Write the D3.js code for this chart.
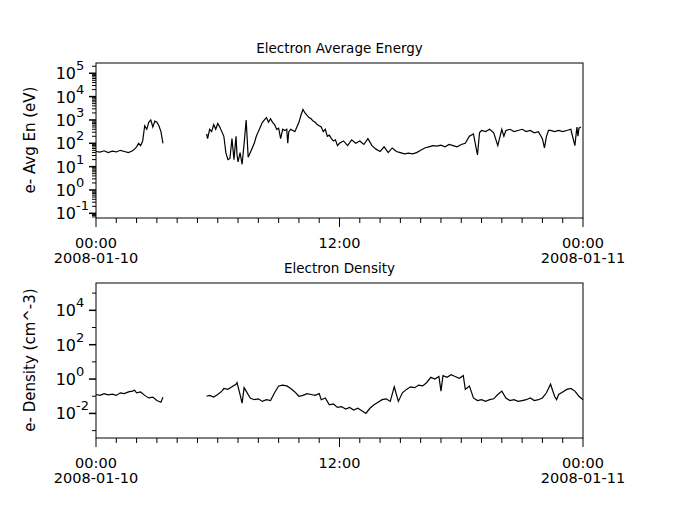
<!DOCTYPE html>
<html><head><meta charset="utf-8">
<script src="https://cdn.jsdelivr.net/npm/d3@7"></script>
<style>body{margin:0;background:#fff}text{font-family:"DejaVu Sans",sans-serif;fill:#000}</style>
</head><body><svg id="c" width="679" height="518"></svg>
<script>
// hours since 2008-01-10 00:00 UTC, log10 values; null = data gap
const energyHours = [0,0.2,0.4,0.6,0.8,1.0,1.2,1.4,1.6,1.8,1.9,2.0,2.1,2.2,2.3,2.4,2.5,2.6,2.7,2.8,2.9,3.0,3.1,3.2,3.3,3.31,
 5.45,5.5,5.6,5.7,5.8,5.9,6.0,6.1,6.2,6.3,6.4,6.5,6.6,6.7,6.8,6.9,6.95,7.0,7.1,7.2,7.3,7.4,7.5,7.6,7.7,7.8,7.9,8.0,8.1,8.2,8.3,8.4,8.5,8.6,8.7,8.8,8.9,9.0,9.1,9.2,9.3,9.4,9.45,9.5,9.6,9.7,9.8,9.9,10.0,10.1,10.2,10.3,10.4,10.5,10.6,10.7,10.8,10.9,11.0,11.1,11.2,11.3,11.4,11.5,11.6,11.7,11.8,11.9,12.0,12.2,12.4,12.6,12.8,13.0,13.2,13.4,13.6,13.8,14.0,14.2,14.4,14.6,14.8,15.0,15.2,15.4,15.6,15.8,16.0,16.2,16.4,16.6,16.8,17.0,17.2,17.4,17.6,17.8,18.0,18.2,18.4,18.6,18.8,18.9,19.0,19.2,19.4,19.6,19.8,20.0,20.1,20.2,20.4,20.6,20.8,21.0,21.2,21.4,21.6,21.8,22.0,22.1,22.2,22.3,22.4,22.6,22.8,23.0,23.2,23.4,23.6,23.7,23.75,23.8,23.9,24.0];
const energyLog = [1.65,1.62,1.68,1.6,1.66,1.63,1.7,1.65,1.6,1.68,1.75,1.85,2.0,1.9,2.1,2.75,2.6,2.9,3.0,2.7,2.95,2.9,2.75,2.5,2.0,null,
 2.4,2.2,2.6,2.5,2.8,2.6,2.85,2.7,2.5,2.3,1.6,1.3,1.35,2.2,1.3,2.3,1.5,1.2,1.6,1.1,2.0,3.0,1.4,1.6,1.8,2.0,2.3,2.5,2.7,2.9,3.0,3.1,2.9,3.05,2.9,2.8,2.6,2.65,2.2,2.6,2.55,2.6,2.0,2.5,2.6,2.55,2.5,2.7,2.9,3.2,3.45,3.3,3.2,3.1,3.05,2.95,2.9,2.8,2.75,2.7,2.5,2.6,2.3,2.35,2.2,2.1,2.15,1.9,2.0,2.1,1.9,2.15,2.0,2.1,1.95,2.2,1.9,1.75,1.65,1.85,1.6,1.8,1.65,1.6,1.55,1.58,1.55,1.6,1.7,1.8,1.85,1.9,1.88,1.92,1.85,1.95,1.9,1.85,1.95,2.0,2.3,2.4,1.5,2.45,2.55,2.5,2.6,2.45,1.9,2.6,2.3,2.55,2.6,2.5,2.55,2.6,2.5,2.55,2.45,2.5,2.2,1.8,2.3,2.55,2.55,2.5,2.55,2.5,2.55,2.6,1.9,2.7,2.3,2.65,2.7];
const densityHours = [0,0.2,0.4,0.6,0.8,1.0,1.2,1.4,1.6,1.8,1.9,2.0,2.2,2.4,2.6,2.8,3.0,3.2,3.3,3.31,
 5.45,5.6,5.8,6.0,6.2,6.3,6.5,6.7,6.9,6.95,7.1,7.2,7.3,7.4,7.6,7.8,8.0,8.2,8.4,8.6,8.8,9.0,9.2,9.4,9.6,9.8,10.0,10.2,10.4,10.6,10.8,11.0,11.1,11.3,11.5,11.7,11.9,12.1,12.3,12.5,12.7,12.9,13.1,13.3,13.5,13.7,13.9,14.1,14.3,14.5,14.7,14.9,15.1,15.3,15.5,15.7,15.9,16.1,16.3,16.5,16.7,16.9,17.0,17.1,17.3,17.5,17.7,17.9,18.1,18.2,18.4,18.6,18.8,19.0,19.2,19.4,19.6,19.8,20.0,20.2,20.4,20.6,20.8,21.0,21.2,21.4,21.6,21.8,22.0,22.2,22.4,22.6,22.7,22.8,23.0,23.2,23.4,23.6,23.8,24.0];
const densityLog = [-0.9,-0.95,-0.85,-0.92,-0.88,-0.95,-0.8,-0.85,-0.75,-0.7,-0.65,-0.8,-0.75,-0.95,-1.1,-1.05,-1.25,-1.35,-1.05,null,
 -1.0,-0.95,-1.05,-0.9,-0.7,-0.55,-0.6,-0.45,-0.3,-0.2,-0.9,-1.4,-0.5,-0.7,-1.1,-1.2,-1.15,-1.3,-1.2,-1.25,-0.8,-0.4,-0.35,-0.4,-0.55,-0.75,-1.0,-0.95,-0.85,-0.9,-0.95,-0.85,-1.2,-1.1,-1.5,-1.45,-1.65,-1.6,-1.75,-1.65,-1.8,-1.7,-1.85,-2.0,-1.7,-1.5,-1.35,-1.2,-1.15,-1.3,-0.45,-1.3,-0.8,-0.6,-0.45,-0.5,-0.35,-0.4,-0.2,0.1,0.0,0.15,-0.7,0.2,0.1,0.25,0.15,0.05,0.2,-0.6,-0.4,-1.1,-1.25,-1.2,-1.3,-1.2,-1.15,-0.9,-0.7,-1.1,-1.25,-1.2,-1.3,-1.25,-1.2,-1.1,-1.25,-1.2,-1.1,-0.8,-0.3,-1.0,-1.2,-0.9,-0.75,-0.6,-0.55,-0.7,-1.0,-1.2];
const energyTicks = [-1,0,1,2,3,4,5];
const densityTicks = [-2,0,2,4];
const timeLabels = [["00:00","2008-01-10"],["12:00",""],["00:00","2008-01-11"]];

const svg = d3.select("#c");
const t0 = Date.UTC(2008,0,10), t1 = Date.UTC(2008,0,11);
const x = d3.scaleUtc().domain([t0,t1]).range([96,583]);
const hr = h => new Date(t0 + h*3600000);

function panel(top, bottom, yDom, hours, vals, majors, minorFn, title, ylabel, ymid){
  const y = d3.scaleLog().domain(yDom).range([bottom, top]);
  svg.append("rect").attr("x",96).attr("y",top).attr("width",487).attr("height",bottom-top)
    .attr("fill","none").attr("stroke","#000");
  svg.append("text").attr("x",339.5).attr("y",top-10).attr("text-anchor","middle").attr("font-size",13.5).text(title);
  svg.append("g").selectAll("line").data(minorFn()).join("line")
    .attr("x1",92).attr("x2",96).attr("y1",d=>y(d)).attr("y2",d=>y(d)).attr("stroke","#000");
  const g = svg.append("g").selectAll("g").data(majors).join("g");
  g.append("line").attr("x1",89).attr("x2",96).attr("y1",d=>y(Math.pow(10,d))).attr("y2",d=>y(Math.pow(10,d))).attr("stroke","#000").attr("stroke-width",1.5);
  g.append("text").attr("x",76).attr("y",d=>y(Math.pow(10,d))+6).attr("text-anchor","end").attr("font-size",16).text("10");
  g.append("text").attr("x",76).attr("y",d=>y(Math.pow(10,d))-3).attr("font-size",13).text(d=>d);
  svg.append("text").attr("transform",`translate(35,${ymid}) rotate(-90)`).attr("text-anchor","middle").attr("font-size",15).text(ylabel);
  const hoursT = d3.range(0,25);
  svg.append("g").selectAll("line").data(hoursT).join("line")
    .attr("x1",d=>x(hr(d))).attr("x2",d=>x(hr(d))).attr("y1",bottom).attr("y2",d=>d%12===0?bottom+9:bottom+5).attr("stroke","#000");
  timeLabels.forEach((d,i)=>{
    d.forEach((s,j)=>{ if(s) svg.append("text").attr("x",x(hr(i*12))).attr("y",bottom+30+j*15)
      .attr("text-anchor","middle").attr("font-size",14.5).text(s); });
  });
  const data = hours.map((h,i)=>({t:hr(h),v:vals[i]}));
  svg.append("path").datum(data).attr("fill","none").attr("stroke","#000").attr("stroke-width",1.2)
    .attr("d",d3.line().defined(d=>d.v!==null).x(d=>x(d.t)).y(d=>y(Math.pow(10,d.v))));
}
panel(63,218,[Math.pow(10,-1.2),Math.pow(10,5.44)],energyHours,energyLog,energyTicks,
  ()=>{const a=[];for(let e=-2;e<=5;e++)for(let k=2;k<=9;k++){const v=k*Math.pow(10,e);if(v>Math.pow(10,-1.2)&&v<Math.pow(10,5.44))a.push(v);}return a;},
  "Electron Average Energy","e- Avg En (eV)",140);
panel(283,438,[Math.pow(10,-3.43),Math.pow(10,5.59)],densityHours,densityLog,densityTicks,
  ()=>[-3,-1,1,3,5].map(e=>Math.pow(10,e)),
  "Electron Density","e- Density (cm^-3)",360);
</script></body></html>
